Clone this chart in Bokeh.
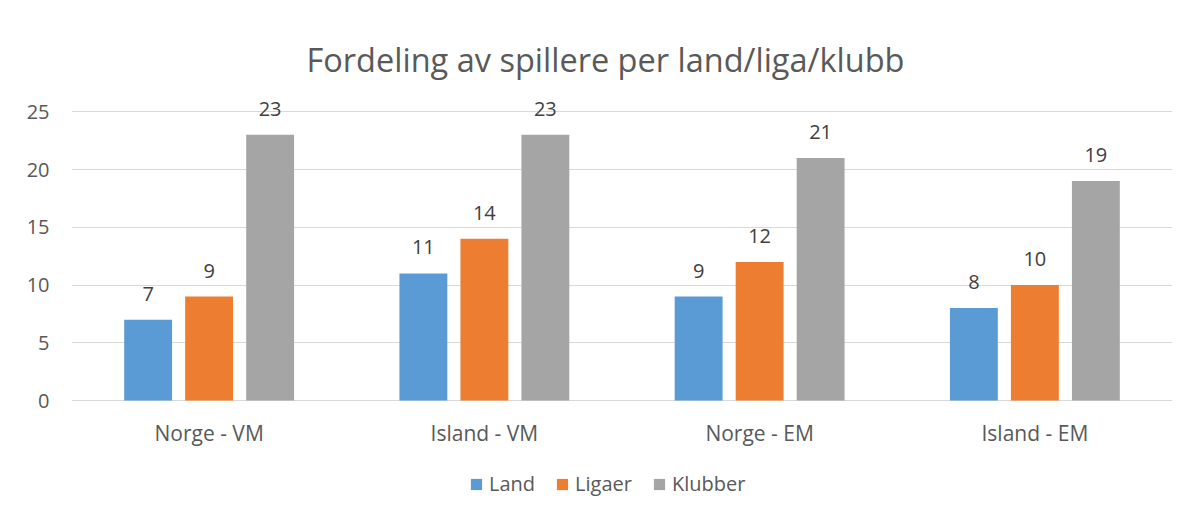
from bokeh.plotting import figure
from bokeh.models import ColumnDataSource, FactorRange, LabelSet, Legend, LegendItem, Label, Range1d
from bokeh.core.properties import value
from bokeh.transform import dodge
from bokeh.embed import file_html
from bokeh.resources import INLINE

categories = ["Norge - VM", "Island - VM", "Norge - EM", "Island - EM"]
series = ["Land", "Ligaer", "Klubber"]
land = [7, 11, 9, 8]
ligaer = [9, 14, 12, 10]
klubber = [23, 23, 21, 19]
colors = ["#5B9BD5", "#ED7D31", "#A5A5A5"]
title_text = "Fordeling av spillere per land/liga/klubb"
yticks = [0, 5, 10, 15, 20, 25]

FONT = "Open Sans"
W, H = 1190, 515
PX_PER_UNIT = 11.55
ZERO_Y = 400  # pixel row of value 0

src = ColumnDataSource(dict(cat=categories, Land=land, Ligaer=ligaer, Klubber=klubber,
                            zero=[0] * len(categories)))

p = figure(x_range=FactorRange(*categories),
           y_range=Range1d(-(H - ZERO_Y) / PX_PER_UNIT, ZERO_Y / PX_PER_UNIT),
           width=W, height=H, output_backend="svg", toolbar_location=None,
           x_axis_location=None,
           min_border_left=71, min_border_right=18, min_border_top=0, min_border_bottom=0)
p.outline_line_color = None
p.background_fill_color = "white"
p.border_fill_color = "white"

offsets = [-0.2216, 0.0, 0.2216]
items = []
for s, off, c in zip(series, offsets, colors):
    r = p.vbar(x=dodge("cat", off, range=p.x_range), top=s, width=0.174, source=src,
               fill_color=c, line_color=None)
    items.append(LegendItem(label=s, renderers=[r]))
    lbl = LabelSet(x=dodge("cat", off, range=p.x_range), y=s, text=s, source=src,
                   text_align="center", text_baseline="bottom", y_offset=19,
                   text_font=value(FONT), text_font_size="20px", text_color="#404040")
    p.add_layout(lbl)

# category labels under the zero line
p.add_layout(LabelSet(x="cat", y="zero", text="cat", source=src, text_align="center",
                      text_baseline="middle", y_offset=-32, text_font=value(FONT),
                      text_font_size="21px", text_color="#595959"))

p.yaxis.ticker = yticks
p.yaxis.axis_line_color = None
p.yaxis.major_tick_line_color = None
p.yaxis.minor_tick_line_color = None
p.yaxis.major_label_text_font = FONT
p.yaxis.major_label_text_font_size = "20px"
p.yaxis.major_label_text_color = "#595959"
p.yaxis.major_label_standoff = 16

p.xgrid.grid_line_color = None
p.ygrid.ticker = yticks
p.ygrid.grid_line_color = "#D9D9D9"
p.ygrid.grid_line_width = 1

legend = Legend(items=items, orientation="horizontal", location=(398, 18),
                label_text_font=FONT, label_text_font_size="20px", label_text_color="#595959",
                glyph_width=14, glyph_height=14, spacing=20, label_standoff=6,
                border_line_color=None, background_fill_alpha=0, padding=0, margin=0)
p.add_layout(legend)

p.add_layout(Label(x=1.94, y=(ZERO_Y - 59) / PX_PER_UNIT, text=title_text,
                   text_align="center", text_baseline="middle", text_font=FONT,
                   text_font_size="32.5px", text_color="#595959"))

open("out.html", "w").write(file_html(p, INLINE))
